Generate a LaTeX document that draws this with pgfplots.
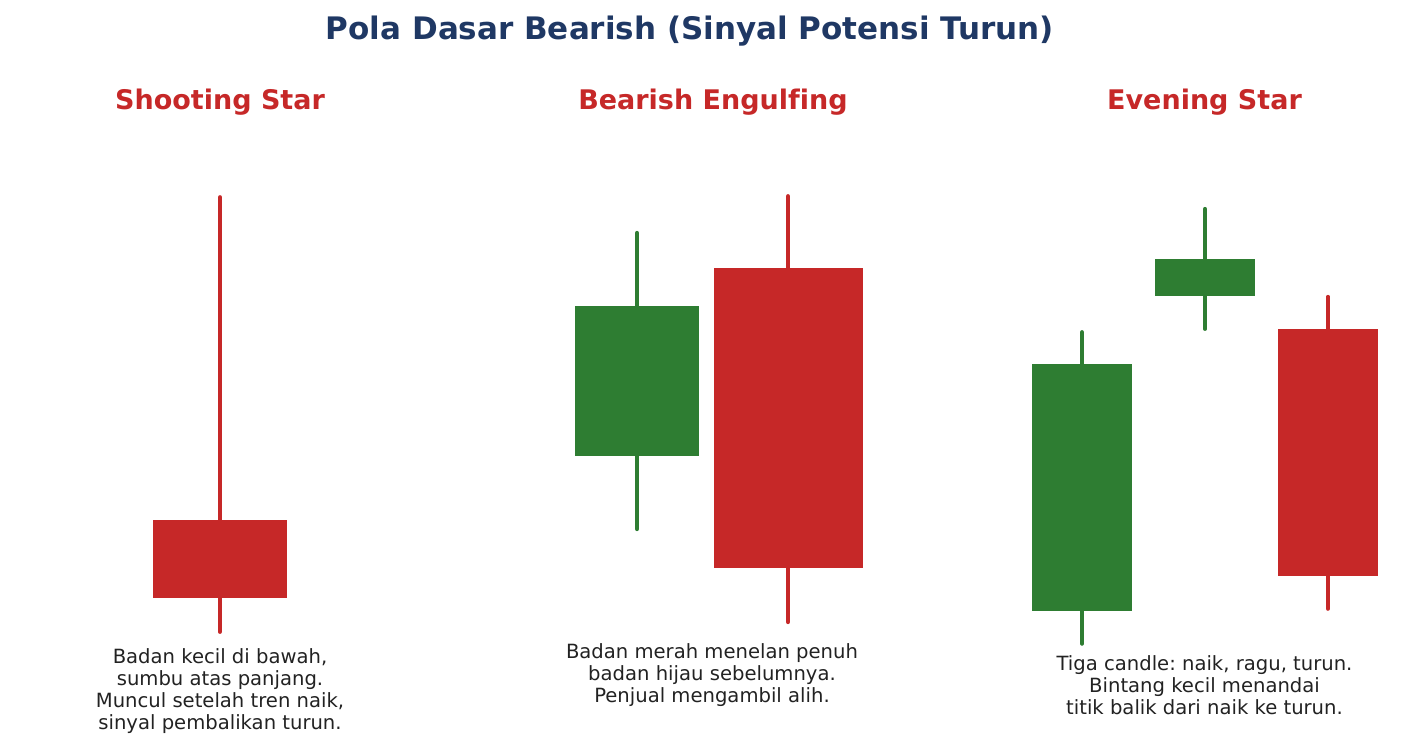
\documentclass[border=0pt]{standalone}
\usepackage{pgfplots}
\pgfplotsset{compat=1.18}
\usepackage{fontspec}
\setmainfont[Ligatures=NoCommon]{DejaVu Sans}
\frenchspacing
\definecolor{bear}{HTML}{C62828}
\definecolor{bull}{HTML}{2E7D32}
\definecolor{navy}{HTML}{1F3864}
\definecolor{txt}{HTML}{222222}

\pgfplotsset{candle/.style={
    scale only axis, hide axis, height=255pt,
    clip=false}}
\tikzset{wick/.style={line width=2pt, line cap=round},
         body/.style={draw=none}}

\begin{document}
\begin{tikzpicture}
\path[use as bounding box] (0,0) rectangle (712.5pt,373.5pt);

% Shooting Star
\begin{axis}[candle, at={(0pt,43.5pt)}, width=220pt,
    xmin=-1.457, xmax=1.457, ymin=98.41, ymax=111.49]
\addplot[bear, wick] coordinates {(0,99.13) (0,110.28)};
\addplot[fill=bear, body] coordinates {(-0.445,100) (0.445,100) (0.445,102) (-0.445,102)};
\end{axis}

% Bearish Engulfing
\begin{axis}[candle, at={(235pt,43.5pt)}, width=242.5pt,
    xmin=-1.106, xmax=2.106, ymin=98.56, ymax=112.16]
\addplot[bull, wick] coordinates {(0,102.05) (0,109.95)};
\addplot[fill=bull, body] coordinates {(-0.41,104) (0.41,104) (0.41,108) (-0.41,108)};
\addplot[bear, wick] coordinates {(1,99.57) (1,110.93)};
\addplot[fill=bear, body] coordinates {(0.51,101) (1.495,101) (1.495,109) (0.51,109)};
\end{axis}

% Evening Star
\begin{axis}[candle, at={(495pt,43.5pt)}, width=217.5pt,
    xmin=-0.748, xmax=2.789, ymin=98.61, ymax=113.06]
\addplot[bull, wick] coordinates {(0,99.07) (0,107.9)};
\addplot[fill=bull, body] coordinates {(-0.407,100) (0.407,100) (0.407,107) (-0.407,107)};
\addplot[bull, wick] coordinates {(1,107.99) (1,111.39)};
\addplot[fill=bull, body] coordinates {(0.593,108.92) (1.407,108.92) (1.407,109.97) (0.593,109.97)};
\addplot[bear, wick] coordinates {(2,100.06) (2,108.9)};
\addplot[fill=bear, body] coordinates {(1.593,101) (2.407,101) (2.407,108) (1.593,108)};
\end{axis}

% titles
\node[anchor=base, font=\fontsize{15.5}{18}\selectfont\bfseries, text=navy, inner sep=0]
  at (345pt,353.75pt) {Pola Dasar Bearish (Sinyal Potensi Turun)};
\begin{scope}[every node/.style={anchor=base, inner sep=0,
    font=\fontsize{13.5}{16}\selectfont\bfseries, text=bear}]
\node at (110pt,318.85pt) {Shooting Star};
\node at (356.5pt,318.85pt) {Bearish Engulfing};
\node at (602.25pt,318.85pt) {Evening Star};
\end{scope}

% captions
\begin{scope}[every node/.style={anchor=base, inner sep=0,
    font=\fontsize{9.8}{11}\selectfont, text=txt}]
\node at (110pt,41.5pt) {Badan kecil di bawah,};
\node at (110pt,30.5pt) {sumbu atas panjang.};
\node at (110pt,19.5pt) {Muncul setelah tren naik,};
\node at (110pt,8.5pt) {sinyal pembalikan turun.};
\node at (356pt,44pt) {Badan merah menelan penuh};
\node at (356pt,33pt) {badan hijau sebelumnya.};
\node at (356pt,22pt) {Penjual mengambil alih.};
\node at (602.25pt,38pt) {Tiga candle: naik, ragu, turun.};
\node at (602.25pt,27pt) {Bintang kecil menandai};
\node at (602.25pt,16pt) {titik balik dari naik ke turun.};
\end{scope}
\end{tikzpicture}
\end{document}
